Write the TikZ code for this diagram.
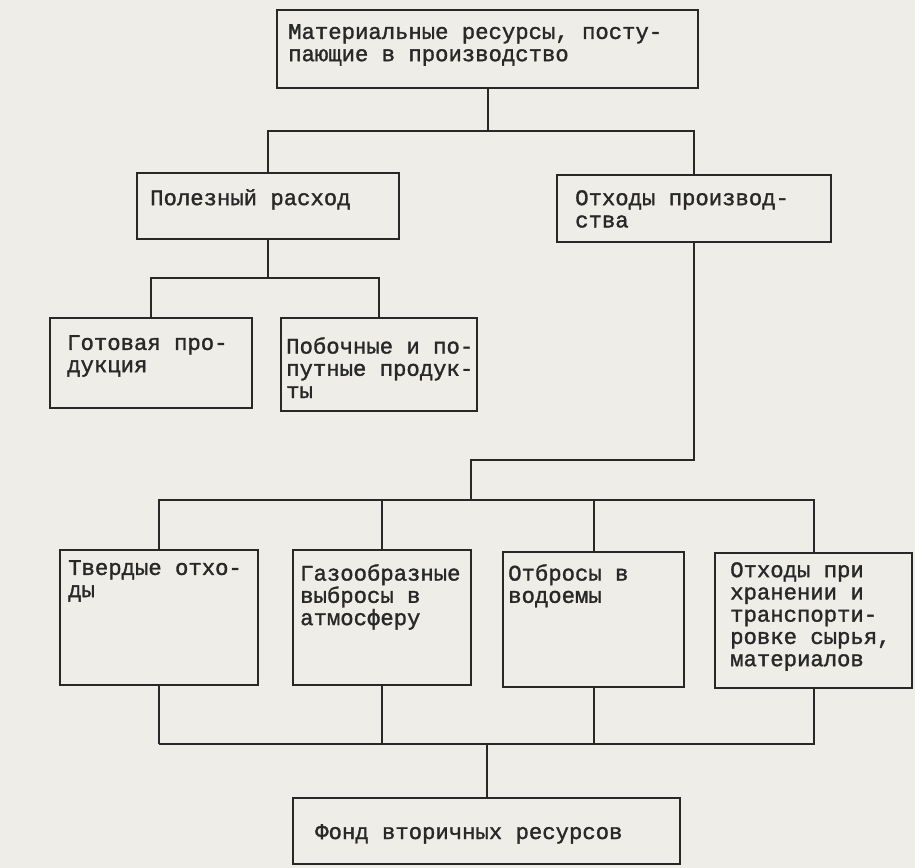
\documentclass[tikz,border=0pt]{standalone}
\usepackage{fontspec}
\newfontfamily\typew[FakeBold=1.4]{Liberation Mono}
\usetikzlibrary{fit}

\definecolor{paper}{RGB}{238,237,232}
\definecolor{ink}{RGB}{40,40,40}

\tikzset{
  box/.style={draw=ink,line width=1.7pt,inner sep=0pt},
  txt/.style={anchor=north west,align=left,inner sep=0pt,text=ink,
    font=\typew\fontsize{19}{19}\selectfont},
  link/.style={draw=ink,line width=1.7pt},
}

\begin{document}
\begin{tikzpicture}[x=0.03cm,y=-0.03cm]
	\fill[paper] (0,0) rectangle (915,868);
	\useasboundingbox (0,0) rectangle (915,868);

	% boxes
	\node[box,fit={(277,10) (698,88)}] (res) {};
	\node[box,fit={(137,173) (399,239)}] (use) {};
	\node[box,fit={(557,175) (831,242)}] (waste) {};
	\node[box,fit={(50,318) (252,408)}] (prod) {};
	\node[box,fit={(281,318) (477,411)}] (byp) {};
	\node[box,fit={(60,550) (258,685)}] (solid) {};
	\node[box,fit={(293,550) (471,685)}] (gas) {};
	\node[box,fit={(503,552) (684,687)}] (water) {};
	\node[box,fit={(715,553) (912,688)}] (store) {};
	\node[box,fit={(293,798) (680,864)}] (fund) {};

	% labels
	\node[txt] (res-t) at (288,24) {Материальные ресурсы, посту-\\пающие в производство};
	\node[txt] (use-t) at (150,189) {Полезный расход};
	\node[txt] (waste-t) at (575,190) {Отходы производ-\\ства};
	\node[txt] (prod-t) at (67,335) {Готовая про-\\дукция};
	\node[txt] (byp-t) at (286,337) {Побочные и по-\\путные продук-\\ты};
	\node[txt] (solid-t) at (68,560) {Твердые отхо-\\ды};
	\node[txt] (gas-t) at (300,564) {Газообразные\\выбросы в\\атмосферу};
	\node[txt] (water-t) at (508,564) {Отбросы в\\водоемы};
	\node[txt] (store-t) at (730,562) {Отходы при\\хранении и\\транспорти-\\ровке сырья,\\материалов};
	\node[txt] (fund-t) at (315,824) {Фонд вторичных ресурсов};

	% levels of the bars
	\coordinate (b1) at (0,131);
	\coordinate (b2) at (0,278);
	\coordinate (m3) at (471,460);
	\coordinate (b4) at (0,500);
	\coordinate (b5) at (0,744);

	\draw[link] (res.south) -- (res.south |- b1);
	\draw[link] (use.north) |- (waste.north |- b1) -- (waste.north);
	\draw[link] (use.south) -- (use.south |- b2);
	\draw[link] (prod.north) |- (byp.north |- b2) -- (byp.north);
	\draw[link] (waste.south) |- (m3) -- (m3 |- b4);
	\draw[link] (solid.north) |- (store.north |- b4) -- (store.north);
	\foreach \n in {gas,water} { \draw[link] (\n.north) -- (\n.north |- b4);}
	\foreach \n in {solid,gas,water} { \draw[link] (\n.south) -- (\n.south |- b5);}
	\draw[link] (store.south) |- (solid.south |- b5);
	\draw[link] (fund.north) -- (fund.north |- b5);
\end{tikzpicture}
\end{document}
